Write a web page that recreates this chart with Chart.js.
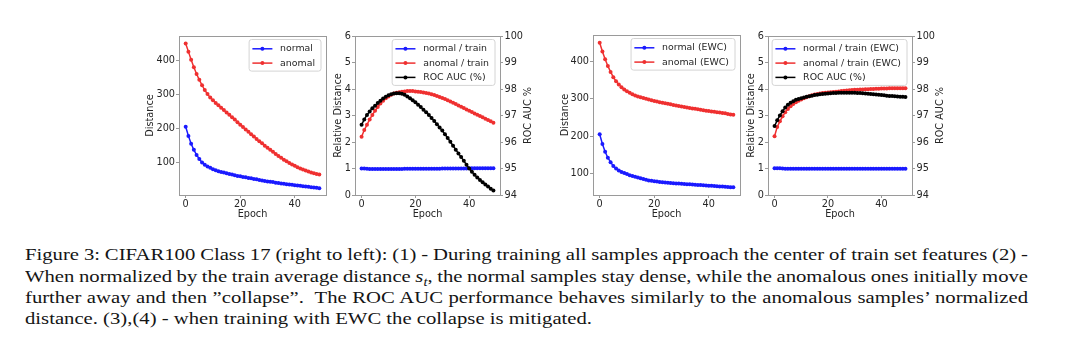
<!DOCTYPE html>
<html><head><meta charset="utf-8">
<script src="https://cdn.jsdelivr.net/npm/chart.js@4.4.0/dist/chart.umd.min.js"></script>
<style>
html,body{margin:0;padding:0;background:#fff;width:1080px;height:347px;overflow:hidden;position:relative}
canvas{position:absolute;display:block}
.cap{position:absolute;left:25px;width:1003px;font-family:'Liberation Serif','Times New Roman',serif;font-size:20.7px;line-height:20.7px;color:#151515;transform-origin:0 0;transform:scaleY(0.85);white-space:nowrap}
.j{text-align:justify;text-align-last:justify;word-spacing:-1px}
.m{font-style:italic}
.m sub{font-size:0.7em;vertical-align:-0.25em;line-height:0}
</style></head>
<body>
<canvas id="c1" width="200" height="194" style="left:130px;top:26px"></canvas>
<canvas id="c2" width="215" height="194" style="left:330px;top:26px"></canvas>
<canvas id="c3" width="190" height="194" style="left:555px;top:26px"></canvas>
<canvas id="c4" width="215" height="194" style="left:745px;top:26px"></canvas>
<div class="cap j" style="top:246.3px">Figure 3: CIFAR100 Class 17 (right to left): (1) - During training all samples approach the center of train set features (2) -</div>
<div class="cap j" style="top:267.6px">When normalized by the train average distance <span class="m">s<sub>t</sub></span>, the normal samples stay dense, while the anomalous ones initially move</div>
<div class="cap j" style="top:288.9px">further away and then ”collapse”.&nbsp; The ROC AUC performance behaves similarly to the anomalous samples’ normalized</div>
<div class="cap" style="top:310.3px">distance. (3),(4) - when training with EWC the collapse is mitigated.</div>
<script>
const EPOCHS = [0,1,2,3,4,5,6,7,8,9,10,11,12,13,14,15,16,17,18,19,20,21,22,23,24,25,26,27,28,29,30,31,32,33,34,35,36,37,38,39,40,41,42,43,44,45,46,47,48,49];
const X_TICKS = [0, 20, 40];
const DIST_TICKS = [100, 200, 300, 400];
const REL_TICKS = [0, 1, 2, 3, 4, 5, 6];
const AUC_TICKS = [94, 95, 96, 97, 98, 99, 100];

const LABELS_1 = ['normal', 'anomal'];
const LABELS_2 = ['normal / train', 'anomal / train', 'ROC AUC (%)'];
const LABELS_3 = ['normal (EWC)', 'anomal (EWC)'];
const LABELS_4 = ['normal / train (EWC)', 'anomal / train (EWC)', 'ROC AUC (%)'];

const D1_NORMAL = [205,178,155,137,122,110,100,93,88,84,80,77,74,72,70,68,66,64,62,60,59,57,56,54,53,51,50,48,47,45,44,43,42,40,39,38,37,36,35,34,33,32,31,30,29,28,27,26,25,24];
const D1_ANOMAL = [450,426,402,380,360,343,327,313,301,291,283,275,268,261,254,247,240,233,226,218,211,204,197,190,183,176,169,162,156,149,143,137,131,125,119,114,108,103,98,94,90,86,82,79,76,73,70,68,66,64];

const R2_NORMAL = [1.00,1.00,0.99,0.98,0.98,0.98,0.98,0.98,0.98,0.98,0.98,0.98,0.98,0.98,0.98,0.98,0.99,0.99,0.99,0.99,0.99,0.99,0.99,0.99,0.99,0.99,0.99,0.99,0.99,0.99,1.00,1.00,1.00,1.00,1.00,1.00,1.00,1.00,1.00,1.00,1.01,1.01,1.01,1.01,1.01,1.01,1.01,1.01,1.01,1.01];
const R2_ANOMAL = [2.2,2.45,2.65,2.85,3.02,3.18,3.32,3.45,3.56,3.65,3.72,3.78,3.83,3.86,3.88,3.90,3.91,3.92,3.92,3.92,3.91,3.90,3.89,3.87,3.85,3.83,3.80,3.77,3.74,3.70,3.66,3.62,3.58,3.53,3.48,3.43,3.38,3.33,3.28,3.23,3.18,3.13,3.08,3.03,2.98,2.93,2.88,2.83,2.78,2.73];
const R2_AUC = [96.65,96.85,97.02,97.15,97.27,97.37,97.47,97.56,97.64,97.71,97.76,97.8,97.83,97.84,97.84,97.82,97.78,97.72,97.65,97.58,97.5,97.41,97.32,97.22,97.12,97.02,96.91,96.79,96.67,96.55,96.43,96.29,96.15,96.01,95.86,95.71,95.57,95.43,95.29,95.14,95.0,94.88,94.76,94.66,94.57,94.48,94.4,94.32,94.24,94.17];

const D3_NORMAL = [205,179,158,142,130,120,113,108,104,101,98,95,93,91,89,87,85,83,81,80,79,78,77,76,75.5,75,74,73.5,73,72.5,72,71.5,71,70.5,70,69.5,69,68.5,68,67.5,67,66.5,66,65.5,65,64.5,64,63.5,63,62.5];
const D3_ANOMAL = [450,427,406,388,372,358,347,338,331,325,320,316,312,309,306,304,302,300,298,296,294,292.5,291,289.5,288,286.5,285,283.5,282,280.5,279,277.8,276.6,275.4,274.2,273,271.8,270.6,269.4,268.2,267,266,265,264,263,262,261,259.5,258,257];

const R4_NORMAL = [1.01,1.01,1.01,1.00,0.99,0.99,0.99,0.99,0.99,0.99,0.99,0.99,0.99,0.99,0.99,0.99,0.99,0.99,0.99,0.99,0.99,0.99,0.99,0.99,0.99,0.99,0.99,0.99,0.99,0.99,0.99,0.99,0.99,0.99,0.99,0.99,0.99,0.99,0.99,0.99,0.99,0.99,0.99,0.99,0.99,0.99,0.99,0.99,0.99,0.99];
const R4_ANOMAL = [2.22,2.57,2.78,2.97,3.12,3.25,3.35,3.43,3.5,3.56,3.6,3.65,3.69,3.73,3.76,3.79,3.81,3.83,3.85,3.86,3.87,3.88,3.89,3.9,3.91,3.92,3.93,3.94,3.95,3.96,3.97,3.975,3.98,3.985,3.99,3.995,4.0,4.0,4.005,4.01,4.015,4.02,4.02,4.025,4.025,4.03,4.03,4.03,4.03,4.03];
const R4_AUC = [96.6,96.82,97.0,97.16,97.3,97.41,97.48,97.54,97.59,97.62,97.65,97.68,97.71,97.73,97.75,97.77,97.78,97.8,97.81,97.82,97.83,97.84,97.85,97.85,97.86,97.86,97.86,97.86,97.86,97.86,97.86,97.85,97.85,97.84,97.83,97.82,97.81,97.8,97.79,97.78,97.77,97.76,97.75,97.74,97.74,97.73,97.72,97.71,97.71,97.7];

const BLUE = '#1a1aff', RED = '#ef3030', BLACK = '#000000';
const TXT = '#262626', SPINE = '#9a9a9a';
const FONT = {family: 'DejaVu Sans', size: 9.7};
const LEG_FONT_PX = 9.4;

function ds(label, arr, color, order, axis) {
  return {
    label, data: EPOCHS.map((e, i) => ({x: e, y: arr[i]})),
    borderColor: color, backgroundColor: color, pointBackgroundColor: color,
    pointBorderWidth: 0, pointRadius: 2, pointHoverRadius: 2, borderWidth: 1.5,
    tension: 0, fill: false, order, yAxisID: axis || 'y'
  };
}

function xScale(H, pb) {
  return {
    type: 'linear', min: -2.45, max: 51.45,
    afterBuildTicks: s => { s.ticks = X_TICKS.map(v => ({value: v})); },
    afterFit: s => { s.height = H; },
    grid: {display: true, drawOnChartArea: false, drawTicks: true, tickLength: 3, color: SPINE},
    border: {display: false},
    ticks: {padding: 1, font: FONT, color: TXT, maxRotation: 0, autoSkip: false},
    title: {display: true, text: 'Epoch', font: FONT, color: TXT, padding: {top: 0, bottom: pb}}
  };
}
function yScale(pos, min, max, tickVals, W, title, tp) {
  return {
    type: 'linear', position: pos, min, max,
    afterBuildTicks: s => { s.ticks = tickVals.map(v => ({value: v})); },
    afterFit: s => { s.width = W; },
    grid: {display: true, drawOnChartArea: false, drawTicks: true, tickLength: 3, color: SPINE},
    border: {display: false},
    ticks: {padding: pos === 'left' ? 1 : 1.5, font: FONT, color: TXT, autoSkip: false},
    title: title ? {display: true, text: title, font: FONT, color: TXT, padding: {top: tp, bottom: 0}} : {display: false}
  };
}

const framePlugin = {
  id: 'frame',
  afterDraw(chart, args, opts) {
    const {ctx, chartArea: a} = chart;
    ctx.save();
    ctx.strokeStyle = SPINE; ctx.lineWidth = 1;
    ctx.strokeRect(Math.round(a.left) + 0.5, Math.round(a.top) + 0.5, Math.round(a.right - a.left), Math.round(a.bottom - a.top));
    if (opts.rightTitle) {
      ctx.save();
      ctx.translate(a.right + 28.5, (a.top + a.bottom) / 2);
      ctx.rotate(-Math.PI / 2);
      ctx.font = FONT.size + 'px "DejaVu Sans"';
      ctx.fillStyle = TXT; ctx.textAlign = 'center'; ctx.textBaseline = 'middle';
      ctx.fillText(opts.rightTitle, 0, 0);
      ctx.restore();
    }
    // legend (upper right, inside the axes)
    const sets = chart.data.datasets;
    ctx.font = LEG_FONT_PX + 'px "DejaVu Sans"';
    let tw = 0;
    sets.forEach(d => { tw = Math.max(tw, ctx.measureText(d.label).width); });
    const w = 3.3 + 20 + 7.7 + tw + 6;
    const h = 9.3 + (sets.length - 1) * 14.3 + 8;
    const right = a.right - 5, left = right - w, top = a.top + 3.5;
    const r = 2.5;
    ctx.beginPath();
    ctx.moveTo(left + r, top); ctx.lineTo(right - r, top); ctx.arcTo(right, top, right, top + r, r);
    ctx.lineTo(right, top + h - r); ctx.arcTo(right, top + h, right - r, top + h, r);
    ctx.lineTo(left + r, top + h); ctx.arcTo(left, top + h, left, top + h - r, r);
    ctx.lineTo(left, top + r); ctx.arcTo(left, top, left + r, top, r);
    ctx.closePath();
    ctx.fillStyle = 'rgba(255,255,255,0.85)'; ctx.fill();
    ctx.strokeStyle = '#d4d4d4'; ctx.lineWidth = 1; ctx.stroke();
    sets.forEach((d, i) => {
      const cy = top + 9.3 + i * 14.3;
      ctx.strokeStyle = d.borderColor; ctx.lineWidth = 1.5;
      ctx.beginPath(); ctx.moveTo(left + 3.3, cy); ctx.lineTo(left + 23.3, cy); ctx.stroke();
      ctx.fillStyle = d.borderColor;
      ctx.beginPath(); ctx.arc(left + 13.3, cy, 2, 0, Math.PI * 2); ctx.fill();
      ctx.fillStyle = TXT; ctx.textAlign = 'left'; ctx.textBaseline = 'middle';
      ctx.fillText(d.label, left + 31, cy);
    });
    ctx.restore();
  }
};

function make(id, datasets, scales, padding, rightTitle) {
  return new Chart(document.getElementById(id), {
    type: 'line',
    data: {datasets},
    options: {
      responsive: false, animation: false, devicePixelRatio: 1,
      layout: {padding},
      plugins: {legend: {display: false}, tooltip: {enabled: false}, frame: {rightTitle}},
      scales
    },
    plugins: [framePlugin]
  });
}

make('c1', [ds(LABELS_1[0], D1_NORMAL, BLUE, 2), ds(LABELS_1[1], D1_ANOMAL, RED, 1)],
  {x: xScale(25, 0), y: yScale('left', 4, 472, DIST_TICKS, 49, 'Distance', 14.9)},
  {top: 10, right: 4, left: 0, bottom: 0});

make('c2', [ds(LABELS_2[0], R2_NORMAL, BLUE, 3), ds(LABELS_2[1], R2_ANOMAL, RED, 2), ds(LABELS_2[2], R2_AUC, BLACK, 1, 'y1')],
  {x: xScale(25, 0), y: yScale('left', 0, 6, REL_TICKS, 25, 'Relative Distance', 2.5),
   y1: yScale('right', 94, 100, AUC_TICKS, 45, null, 0)},
  {top: 10, right: 0, left: 0, bottom: 0}, 'ROC AUC %');

make('c3', [ds(LABELS_3[0], D3_NORMAL, BLUE, 2), ds(LABELS_3[1], D3_ANOMAL, RED, 1)],
  {x: xScale(25, 0), y: yScale('left', 42, 471, DIST_TICKS, 38, 'Distance', 4.2)},
  {top: 9, right: 5, left: 0, bottom: 0});

make('c4', [ds(LABELS_4[0], R4_NORMAL, BLUE, 3), ds(LABELS_4[1], R4_ANOMAL, RED, 2), ds(LABELS_4[2], R4_AUC, BLACK, 1, 'y1')],
  {x: xScale(25, 0), y: yScale('left', 0, 6, REL_TICKS, 23, 'Relative Distance', 0.9),
   y1: yScale('right', 94, 100, AUC_TICKS, 48, null, 0)},
  {top: 10, right: 0, left: 0, bottom: 0}, 'ROC AUC %');
</script>
</body></html>
